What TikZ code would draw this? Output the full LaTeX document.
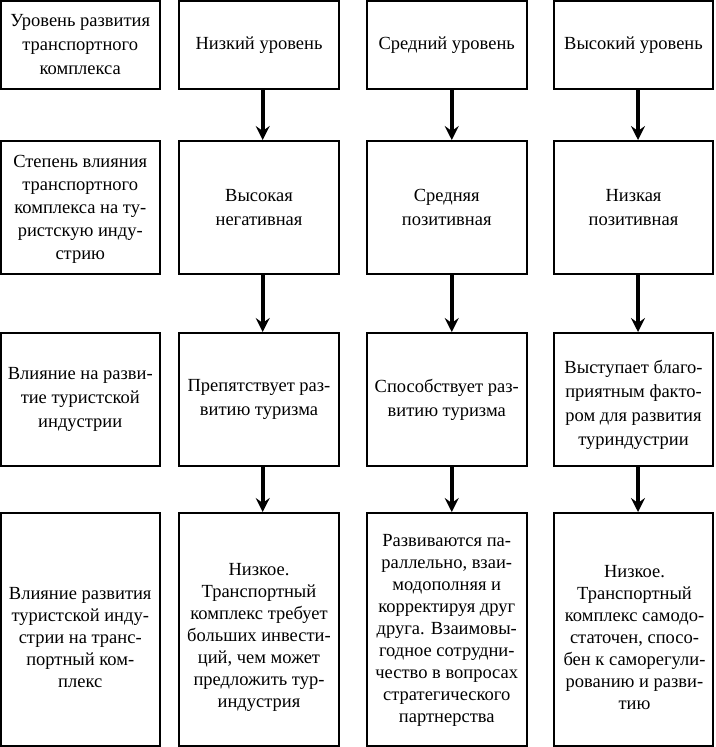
\documentclass[tikz,border=0pt]{standalone}
\usepackage{fontspec}
\setmainfont{Liberation Serif}
\usetikzlibrary{arrows.meta}
\begin{document}
\begin{tikzpicture}[x=1pt,y=-1pt,
  box/.style={draw, line width=2pt, inner sep=0pt, align=center,
    font=\fontsize{18.5}{24}\selectfont},
  txt/.style={inner sep=0pt, align=center, font=\fontsize{18.5}{22}\selectfont},
  cA/.style={box, minimum width=158.5pt},
  cB/.style={box, minimum width=160pt},
  cC/.style={box, minimum width=159.5pt},
  cD/.style={box, minimum width=159pt},
  rA/.style={minimum height=88pt},
  rB/.style={minimum height=133pt},
  rC/.style={minimum height=133pt},
  rD/.style={minimum height=233pt},
  conn/.style={line width=4pt, -{Stealth[length=14pt,width=14pt,inset=5pt]}}]
\useasboundingbox (0,0) rectangle (715,747);
% row 1
\node[cA,rA] (a1) at (80.25,45) {Уровень развития\\транспортного\\комплекса};
\node[cB,rA] (a2) at (259,45) {Низкий уровень};
\node[cC,rA] (a3) at (446.75,45) {Средний уровень};
\node[cD,rA] (a4) at (633.5,45) {Высокий уровень};
% row 2
\node[cA,rB] (b1) at (80.25,207.5) {};
\node[txt, font=\fontsize{18.5}{23}\selectfont] (tb1) at ([yshift=-2pt]b1.center) {Степень влияния\\транспортного\\комплекса на ту-\\ристскую инду-\\стрию};
\node[cB,rB] (b2) at (259,207.5) {Высокая\\негативная};
\node[cC,rB] (b3) at (446.75,207.5) {Средняя\\позитивная};
\node[cD,rB] (b4) at (633.5,207.5) {Низкая\\позитивная};
% row 3
\node[cA,rC] (c1) at (80.25,399.5) {Влияние на разви-\\тие туристской\\индустрии};
\node[cB,rC] (c2) at (259,399.5) {Препятствует раз-\\витию туризма};
\node[cC,rC] (c3) at (446.75,399.5) {Способствует раз-\\витию туризма};
\node[cD,rC] (c4) at (633.5,399.5) {};
\node[txt, font=\fontsize{18.5}{24}\selectfont] (tc4) at ([yshift=-5pt]c4.center) {Выступает благо-\\приятным факто-\\ром для развития\\туриндустрии};
% row 4
\node[cA,rD] (d1) at (80.25,629.5) {};
\node[cB,rD] (d2) at (259,629.5) {};
\node[cC,rD] (d3) at (446.75,629.5) {};
\node[cD,rD] (d4) at (633.5,629.5) {};
\node[txt] (td1) at ([yshift=-8pt]d1.center) {Влияние развития\\туристской инду-\\стрии на транс-\\портный ком-\\плекс};
\node[txt] (td2) at ([yshift=-8pt]d2.center) {Низкое.\\Транспортный\\комплекс требует\\больших инвести-\\ций, чем может\\предложить тур-\\индустрия};
\node[txt] (td3) at ([yshift=-1pt]d3.center) {Развиваются па-\\раллельно, взаи-\\модополняя и\\корректируя друг\\друга. Взаимовы-\\годное сотрудни-\\чество в вопросах\\стратегического\\партнерства};
\node[txt] (td4) at ([xshift=1pt,yshift=-8pt]d4.center) {Низкое.\\Транспортный\\комплекс самодо-\\статочен, спосо-\\бен к саморегули-\\рованию и разви-\\тию};
% arrows
\draw[conn] ([xshift=3.7pt]a2.south) -- ([xshift=3.7pt]b2.north);
\draw[conn] ([xshift=3.7pt]b2.south) -- ([xshift=3.7pt]c2.north);
\draw[conn] ([xshift=3.7pt]c2.south) -- ([xshift=3.7pt]d2.north);
\draw[conn] ([xshift=5pt]a3.south) -- ([xshift=5pt]b3.north);
\draw[conn] ([xshift=5pt]b3.south) -- ([xshift=5pt]c3.north);
\draw[conn] ([xshift=5pt]c3.south) -- ([xshift=5pt]d3.north);
\draw[conn] ([xshift=4.5pt]a4.south) -- ([xshift=4.5pt]b4.north);
\draw[conn] ([xshift=4.5pt]b4.south) -- ([xshift=4.5pt]c4.north);
\draw[conn] ([xshift=4.5pt]c4.south) -- ([xshift=4.5pt]d4.north);
\end{tikzpicture}
\end{document}
